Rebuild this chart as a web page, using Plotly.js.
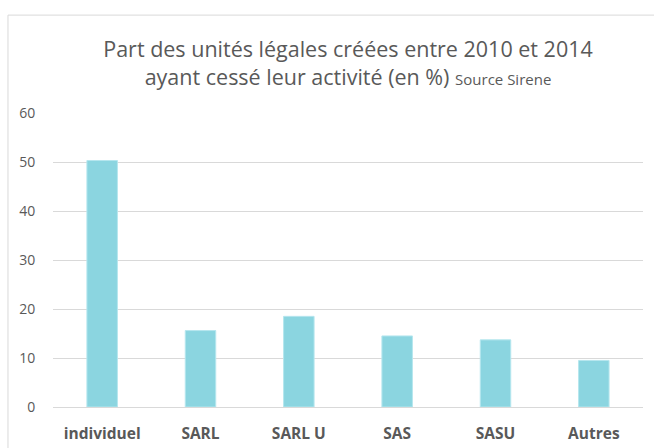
<!DOCTYPE html>
<html>
<head>
<meta charset="utf-8">
<script src="https://cdn.plot.ly/plotly-3.0.1.min.js"></script>
<style>html,body{margin:0;padding:0;background:#fff;}#chart{width:654px;height:448px;}</style>
</head>
<body>
<div id="chart"></div>
<script>
const categories = ["individuel", "SARL", "SARL U", "SAS", "SASU", "Autres"];
const values = [50.3, 15.6, 18.5, 14.5, 13.7, 9.5];
const yTicks = [0, 10, 20, 30, 40, 50, 60];

const trace = {
  type: "bar",
  x: categories,
  y: values,
  marker: {color: "#8bd5e0", line: {color: "#b5e6ee", width: 1}},
  hoverinfo: "x+y"
};

const layout = {
  width: 654,
  height: 448,
  margin: {l: 53, r: 11, t: 113, b: 41},
  paper_bgcolor: "#ffffff",
  plot_bgcolor: "#ffffff",
  font: {family: "Open Sans, sans-serif", color: "#595959"},
  title: {
    text: "Part des unités légales créées entre 2010 et 2014<br>ayant cessé leur activité (en %) <span style=\"font-size:15px\">Source Sirene</span>",
    font: {family: "Open Sans, sans-serif", size: 21.5, color: "#595959"},
    x: 0.5, xanchor: "center",
    xref: "paper",
    yref: "container", y: 0.872, yanchor: "top"
  },
  bargap: 0.69,
  xaxis: {
    type: "category",
    showgrid: false,
    showline: true,
    linecolor: "#d9d9d9",
    linewidth: 1,
    ticks: "outside",
    ticklen: 12,
    tickcolor: "rgba(0,0,0,0)",
    tickfont: {family: "Open Sans, sans-serif", size: 15.5, color: "#595959", weight: "bold"}
  },
  yaxis: {
    range: [0, 60],
    tickvals: yTicks,
    showgrid: true,
    gridcolor: "#d9d9d9",
    gridwidth: 1,
    zeroline: false,
    showline: false,
    ticks: "outside",
    ticklen: 14,
    tickcolor: "rgba(0,0,0,0)",
    tickfont: {family: "Open Sans, sans-serif", size: 14, color: "#595959"}
  },
  shapes: [{
    type: "rect", xref: "paper", yref: "paper",
    x0: -0.0763, x1: 1.05, y0: -0.2, y1: 1.333,
    line: {color: "#d9d9d9", width: 1}, fillcolor: "rgba(0,0,0,0)", layer: "above"
  }],
  showlegend: false
};

Plotly.newPlot("chart", [trace], layout, {displayModeBar: false, staticPlot: true});
</script>
</body>
</html>
